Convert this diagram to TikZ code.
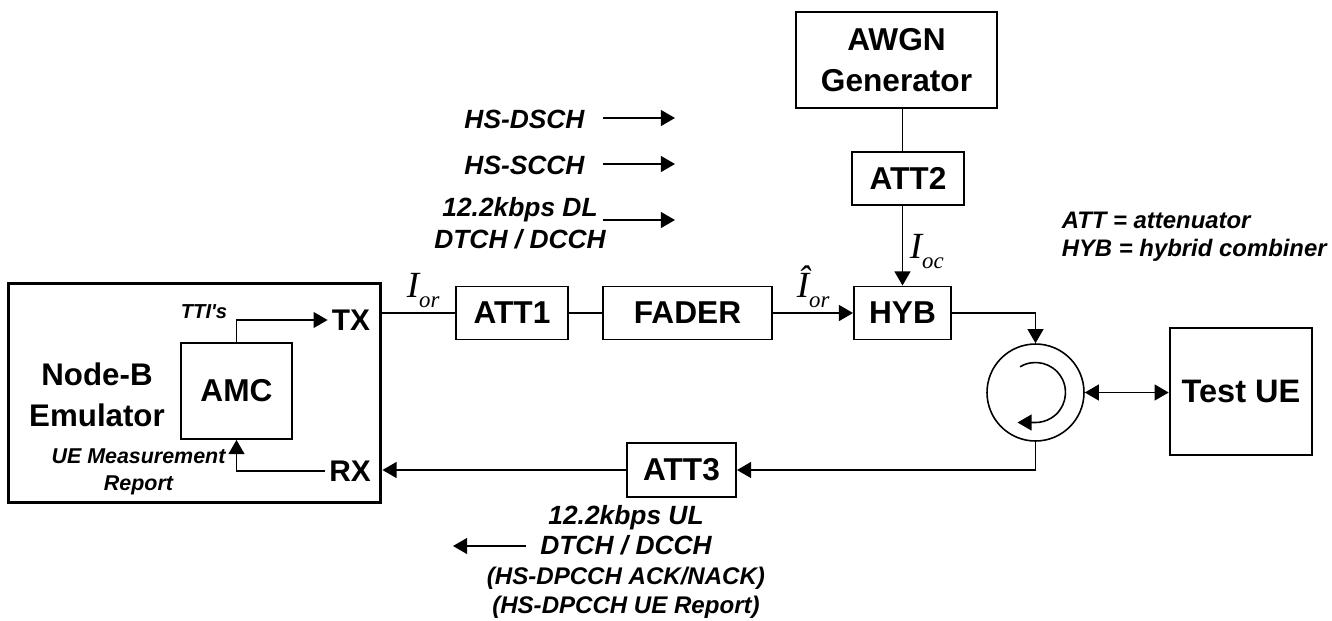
\documentclass[tikz,border=0pt]{standalone}
\usepackage{fontspec}
\usepackage{tikz}
\usetikzlibrary{arrows.meta}
\setmainfont{Liberation Sans}
\newfontfamily\serifsym{Liberation Serif}
\newcommand{\sigI}[2]{{\serifsym\itshape\fontsize{21}{21}\selectfont #1\raisebox{-5.7pt}{\fontsize{13}{13}\selectfont #2}}}
\newcommand{\lowfont}{\fontsize{13.7}{17}\selectfont}

\begin{document}
\begin{tikzpicture}[x=0.02cm, y=-0.02cm, line width=0.9pt,
    box/.style={draw, line width=1.1pt, font=\fontsize{18}{23}\selectfont\bfseries, align=center, inner sep=0pt},
    big/.style={font=\fontsize{17.8}{23}\selectfont\bfseries, align=center, inner sep=0pt},
    port/.style={font=\fontsize{17}{17}\selectfont\bfseries, inner ysep=0pt, inner xsep=2pt},
    note/.style={font=\fontsize{15}{18}\selectfont\bfseries\itshape, align=center, inner sep=0pt},
    small/.style={font=\fontsize{12.2}{15}\selectfont\bfseries\itshape, align=center, inner sep=0pt},
    sig/.style={anchor=base west, inner sep=0pt},
    tip/.style={-{Triangle[length=8pt,width=9pt]}},
    tips/.style={{Triangle[length=8pt,width=9pt]}-{Triangle[length=8pt,width=9pt]}}]
    \useasboundingbox (0,0) rectangle (1332,620);
    % boxes
    \node[box, line width=1.7pt, minimum width=7.46cm, minimum height=4.4cm] (nodeb) at (194.5,393) {};
    \node[box, minimum width=2.22cm, minimum height=1.92cm] (amc) at (236.5,391) {AMC};
    \node[box, minimum width=2.24cm, minimum height=1.06cm] (att1) at (512,313) {ATT1};
    \node[box, minimum width=3.38cm, minimum height=1.06cm] (fader) at (687.5,313) {FADER};
    \node[box, minimum width=1.94cm, minimum height=1.06cm] (hyb) at (902.5,313) {HYB};
    \node[box, minimum width=4.02cm, minimum height=1.92cm] (awgn) at (896.5,60) {AWGN\\Generator};
    \node[box, minimum width=2.24cm, minimum height=1.06cm] (att2) at (908,178.5) {ATT2};
    \node[box, minimum width=2.18cm, minimum height=1.08cm] (att3) at (681.5,470) {ATT3};
    \node[box, line width=1.5pt, font=\fontsize{18.5}{23}\selectfont\bfseries, minimum width=2.84cm, minimum height=2.54cm] (ue) at (1241,391.5) {Test UE};
    \node[draw, circle, minimum size=1.94cm, inner sep=0pt] (circ) at (1035.5,392.5) {};
    % texts inside the emulator
    \node[port] (tx) at (351,320) {TX};
    \node[port] (rx) at (350,471) {RX};
    \node[big] (emu) at (97,395) {Node-B\\Emulator};
    \node[small, font=\fontsize{11.5}{15}\selectfont\bfseries\itshape] (tti) at (204,312) {TTI\textquotesingle s};
    \node[small] (rep) at (138.5,472) {UE Measurement\\Report};
    % signal names
    \node[note] (dsch) at (524.5,119) {HS-DSCH};
    \node[note] (scch) at (524.5,165) {HS-SCCH};
    \node[note] (dtch) at (520,223) {12.2kbps DL\\DTCH / DCCH};
    \node[note, font=\fontsize{13.6}{16}\selectfont\bfseries\itshape, align=left, anchor=west] (key) at (1061,237) {ATT = attenuator\\HYB = hybrid combiner};
    \node[note, font=\fontsize{15}{17}\selectfont\bfseries\itshape] (ul) at (626,562) {12.2kbps UL\\DTCH / DCCH\\\lowfont (HS-DPCCH ACK/NACK)\\\lowfont (HS-DPCCH UE Report)};
    \node[sig] (ior) at (406,297) {\sigI{I}{or}};
    \node[sig] (iorh) at (796,297) {\sigI{\^{I}}{or}};
    \node[sig] (ioc) at (909,258) {\sigI{I}{oc}};
    % free arrows
    \coordinate (a1) at (603,118);
    \coordinate (b1) at (675,118);
    \coordinate (a2) at (603,164);
    \coordinate (b2) at (675,164);
    \coordinate (a3) at (603,220);
    \coordinate (b3) at (675,220);
    \coordinate (a4) at (526,546);
    \coordinate (b4) at (453,546);
    \draw[tip] (a1) -- (b1);
    \draw[tip] (a2) -- (b2);
    \draw[tip] (a3) -- (b3);
    \draw[tip] (a4) -- (b4);
    % connectors
    \draw[tip] (amc.north) |- (tx.west);
    \draw[tip] (rx.west) -| (amc.south);
    \draw (nodeb.east |- att1) -- (att1);
    \draw (att1) -- (fader);
    \draw[tip] (fader) -- (hyb);
    \draw (hyb |- awgn.south) -- (hyb |- att2.north);
    \draw[tip] (hyb |- att2.south) -- (hyb.north);
    \draw[tip] (hyb) -| (circ.north);
    \draw[tip] (circ.south) |- (att3);
    \draw[tip] (att3) -- (nodeb.east |- att3);
    \draw[tips] (circ.east) -- (ue.west |- circ);
    % circulator arrow
    \draw[tip] ([shift={(-121:30)}]circ.center) arc[start angle=-121, end angle=90, radius=30] -- ++(-18,0);
\end{tikzpicture}
\end{document}
